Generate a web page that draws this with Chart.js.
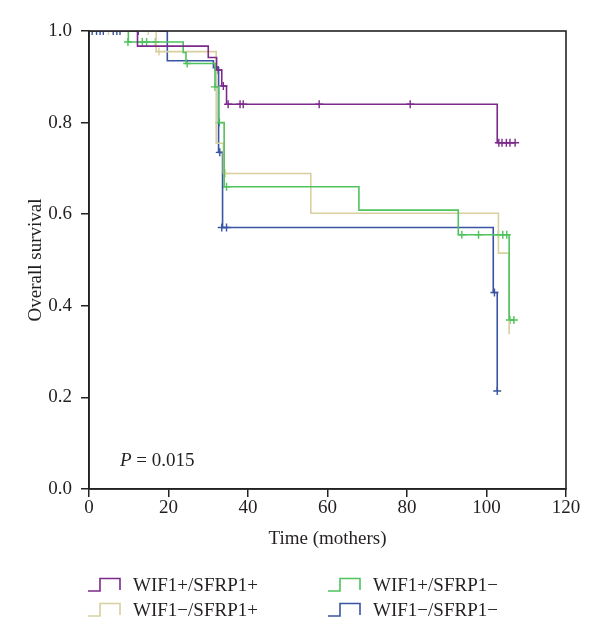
<!DOCTYPE html>
<html>
<head>
<meta charset="utf-8">
<script src="https://cdn.jsdelivr.net/npm/chart.js@4.4.1/dist/chart.umd.min.js"></script>
<style>
  html, body { margin: 0; padding: 0; background: #fff; }
  canvas { display: block; }
</style>
</head>
<body>
<canvas id="kmChart" width="600" height="643"></canvas>
<script>
// Group labels, in dataset order
const groupLabels = ['WIF1+/SFRP1+', 'WIF1+/SFRP1\u2212', 'WIF1\u2212/SFRP1+', 'WIF1\u2212/SFRP1\u2212'];
const groupColors = ['#7b2a8b', '#4fc35d', '#d8d09e', '#3a54a4'];

// WIF1+/SFRP1+ (purple)
const posPosTimes = [0, 12.2, 30.0, 32.1, 33.4, 34.6, 102.7, 107.2];
const posPosSurv = [1, 0.967, 0.942, 0.915, 0.880, 0.840, 0.756, 0.756];
const posPosCensorTimes = [32.5, 33.8, 35.0, 38.0, 38.8, 57.9, 80.8, 103.1, 103.9, 105.0, 105.9, 107.2];
const posPosCensorSurv = [0.915, 0.880, 0.840, 0.840, 0.840, 0.840, 0.840, 0.756, 0.756, 0.756, 0.756, 0.756];

// WIF1+/SFRP1- (green)
const posNegTimes = [0, 9.9, 23.7, 24.4, 31.7, 32.6, 34.0, 67.9, 92.9, 105.7, 106.9];
const posNegSurv = [1, 0.976, 0.953, 0.929, 0.878, 0.800, 0.660, 0.609, 0.555, 0.369, 0.369];
const posNegCensorTimes = [9.8, 13.4, 14.5, 16.7, 24.7, 31.7, 32.8, 34.6, 93.8, 98.0, 103.0, 104.1, 105.1, 105.9, 106.9];
const posNegCensorSurv = [0.976, 0.976, 0.976, 0.976, 0.929, 0.878, 0.800, 0.660, 0.555, 0.555, 0.555, 0.555, 0.555, 0.369, 0.369];

// WIF1-/SFRP1+ (khaki)
const negPosTimes = [0, 16.9, 32.0, 33.8, 55.8, 103.0, 105.7];
const negPosSurv = [1, 0.955, 0.755, 0.689, 0.602, 0.515, 0.338];
const negPosCensorTimes = [4.9, 14.9, 17.6, 34.3];
const negPosCensorSurv = [1, 1, 0.955, 0.689];

// WIF1-/SFRP1- (blue)
const negNegTimes = [0, 19.7, 31.3, 32.6, 33.6, 101.7, 102.7];
const negNegSurv = [1, 0.935, 0.920, 0.735, 0.571, 0.429, 0.214];
const negNegCensorTimes = [0.8, 1.9, 2.8, 3.6, 6.1, 7.0, 7.8, 12.4, 32.9, 33.4, 34.6, 102.0, 102.7];
const negNegCensorSurv = [1, 1, 1, 1, 1, 1, 1, 1, 0.735, 0.571, 0.571, 0.429, 0.214];

// Axis ticks
const xTicks = [0, 20, 40, 60, 80, 100, 120];
const yTicks = [0, 0.2, 0.4, 0.6, 0.8, 1.0];
const pValueText = '0.015';

const FONT = '"Liberation Serif", "DejaVu Serif", serif';
const INK = '#231f20';

const groups = [
    [posPosTimes, posPosSurv, posPosCensorTimes, posPosCensorSurv],
    [posNegTimes, posNegSurv, posNegCensorTimes, posNegCensorSurv],
    [negPosTimes, negPosSurv, negPosCensorTimes, negPosCensorSurv],
    [negNegTimes, negNegSurv, negNegCensorTimes, negNegCensorSurv]
];

function toPoints(xs, ys) {
    return xs.map((x, i) => ({ x: x, y: ys[i] }));
}

const datasets = [];
groups.forEach((g, i) => {
    datasets.push({
        label: groupLabels[i],
        data: toPoints(g[0], g[1]),
        borderColor: groupColors[i],
        borderWidth: 1.6,
        stepped: 'before',   // horizontal first, then drop
        pointRadius: 0,
        fill: false
    });
});
groups.forEach((g, i) => {
    datasets.push({
        label: groupLabels[i] + ' censored',
        data: toPoints(g[2], g[3]),
        showLine: false,
        pointStyle: 'cross',
        pointRadius: 4,
        borderColor: groupColors[i],
        borderWidth: 1.4,
        backgroundColor: groupColors[i]
    });
});

// box around the plot (top + right sides)
const framePlugin = {
    id: 'frame',
    afterDatasetsDraw(chart) {
        const a = chart.chartArea;
        const c = chart.ctx;
        c.save();
        c.strokeStyle = '#222';
        c.lineWidth = 1.6;
        c.strokeRect(a.left, a.top, a.right - a.left, a.bottom - a.top);
        c.restore();
    }
};

// P value annotation
const pValuePlugin = {
    id: 'pvalue',
    afterDraw(chart) {
        const c = chart.ctx;
        c.save();
        c.fillStyle = INK;
        c.textBaseline = 'middle';
        c.font = 'italic 19px ' + FONT;
        c.fillText('P', 120, 461);
        const w = c.measureText('P').width;
        c.font = '19px ' + FONT;
        c.fillText(' = ' + pValueText, 120 + w, 461);
        c.restore();
    }
};

// two-column legend with step-shaped keys
const legendPlugin = {
    id: 'stepLegend',
    afterDraw(chart) {
        const c = chart.ctx;
        const cols = [88, 328];
        const rows = [585, 610];
        c.save();
        for (let i = 0; i < 4; i++) {
            const x = cols[i % 2];
            const y = rows[Math.floor(i / 2)];
            c.strokeStyle = groupColors[i];
            c.lineWidth = 1.6;
            c.beginPath();
            c.moveTo(x, y + 6);
            c.lineTo(x + 12, y + 6);
            c.lineTo(x + 12, y - 6.5);
            c.lineTo(x + 32, y - 6.5);
            c.lineTo(x + 32, y + 5);
            c.stroke();
            c.fillStyle = INK;
            c.font = '19px ' + FONT;
            c.textBaseline = 'middle';
            c.fillText(groupLabels[i], x + 45, y + 1);
        }
        c.restore();
    }
};

const ctx = document.getElementById('kmChart').getContext('2d');
const chart = new Chart(ctx, {
    type: 'line',
    data: { datasets: datasets },
    options: {
        responsive: false,
        animation: false,
        layout: { padding: { left: 25, right: 34, top: 31, bottom: 93 } },
        plugins: {
            legend: { display: false },
            tooltip: { enabled: false }
        },
        scales: {
            x: {
                type: 'linear',
                min: 0,
                max: 120,
                afterBuildTicks: (s) => { s.ticks = xTicks.map(v => ({ value: v })); },
                ticks: { color: INK, padding: 0, font: { family: FONT, size: 19 } },
                grid: { drawOnChartArea: false, tickLength: 8, color: '#222', lineWidth: 1.5 },
                border: { color: '#222', width: 1.6 },
                title: { display: true, text: 'Time (mothers)', color: INK, padding: 0, font: { family: FONT, size: 19 } },
                afterFit: (s) => { s.height = 61; }
            },
            y: {
                type: 'linear',
                min: 0,
                max: 1,
                afterBuildTicks: (s) => { s.ticks = yTicks.map(v => ({ value: v })); },
                ticks: { color: INK, padding: 9, font: { family: FONT, size: 19 }, callback: (v) => Number(v).toFixed(1) },
                grid: { drawOnChartArea: false, tickLength: 8, color: '#222', lineWidth: 1.5 },
                border: { color: '#222', width: 1.6 },
                title: { display: true, text: 'Overall survival', color: INK, padding: 0, font: { family: FONT, size: 19 } },
                afterFit: (s) => { s.width = 64; }
            }
        }
    },
    plugins: [framePlugin, pValuePlugin, legendPlugin]
});
</script>
</body>
</html>
